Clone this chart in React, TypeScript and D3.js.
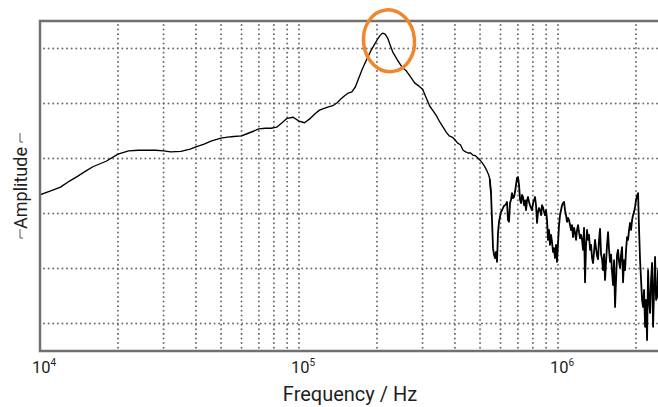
import React from "react";
import * as d3 from "d3";

// Frequency (kHz) and amplitude (dB)
const freqKHz: number[] = [
  10, 11, 12, 13, 14, 15, 16, 18, 20, 22, 24, 26, 28, 30, 32, 35, 38, 40, 43, 46, 50, 53, 56, 60, 63, 67, 70, 74, 78, 82, 86, 90, 95,
  100, 105, 110, 115, 120, 125, 130, 135, 140, 145, 150, 155, 160, 165, 170, 175, 180, 185, 190, 195, 200, 205, 210, 215, 220, 225, 230,
  240, 250, 260, 270, 280, 290, 300, 310, 320, 330, 340, 350, 360, 370, 380, 390, 400, 410, 420, 430, 440, 450, 460, 470, 480, 490,
  500, 510, 520, 530, 540, 545,
  551.3, 556.2, 561.2, 566.2, 571.2, 576.3, 581.5, 586.7, 592.0, 597.2, 602.5, 607.9, 613.3, 618.8, 624.3, 629.9, 635.5, 641.2, 646.9,
  652.8, 658.6, 664.5, 670.4, 676.4, 682.4, 688.6, 694.7, 700.9, 707.2, 713.5, 719.9, 726.3, 732.8, 739.3, 745.9, 752.6, 759.3, 766.1,
  772.9, 779.8, 786.8, 793.8, 800.9, 808.0, 815.2, 822.5, 829.9, 837.3, 844.8, 852.3, 859.9, 867.6, 875.3, 883.1, 891.0, 899.0, 907.0,
  915.1, 923.3, 931.6, 939.9, 948.3, 956.8, 965.3, 973.9, 982.6, 991.4, 1000.2, 1009.2, 1018.2, 1027.3, 1036.5, 1045.7, 1055.1, 1064.5,
  1074.0, 1083.6, 1093.3, 1103.1, 1113.0, 1122.9, 1132.9, 1143.1, 1153.3, 1163.6, 1174.0, 1184.5, 1195.0, 1205.7, 1216.5, 1227.4, 1238.3,
  1249.4, 1260.5, 1271.8, 1283.2, 1294.6, 1306.2, 1317.8, 1329.6, 1341.5, 1353.5, 1365.6, 1377.7, 1390.0, 1402.4, 1414.9, 1427.6, 1440.3,
  1453.3, 1466.3, 1479.3, 1492.5, 1505.9, 1519.3, 1532.9, 1546.6, 1560.4, 1574.3, 1588.5, 1602.7, 1617.0, 1631.4, 1646.0, 1660.7, 1675.5,
  1690.5, 1705.6, 1720.8, 1736.2, 1751.7, 1767.4, 1783.1, 1799.1, 1815.2, 1831.4, 1847.7, 1864.2, 1880.9, 1897.7, 1914.6, 1931.8, 1949.0,
  1966.4, 1984.0, 2001.7, 2019.6, 2037.6, 2055.8, 2074.2, 2092.7, 2111.4, 2130.3, 2149.3, 2168.5, 2187.8, 2207.4, 2227.1, 2247.0, 2267.1,
  2287.3, 2307.7, 2328.3, 2349.1, 2370.1, 2391.3, 2412.6, 2434.2, 2455.9, 2478.0,
];

const ampDb: number[] = [
  -36.6, -35.9, -35.2, -34.1, -33.2, -32.3, -31.5, -30.5, -29.2, -28.6, -28.5, -28.5, -28.5, -28.6, -28.8, -28.7, -28.3, -27.9, -27.4,
  -26.8, -26.3, -26.1, -26.0, -25.9, -25.5, -25.0, -24.6, -24.5, -24.5, -24.3, -23.5, -22.7, -22.5,
  -23.2, -23.5, -22.8, -21.9, -21.2, -20.9, -20.6, -20.4, -19.9, -19.2, -18.6, -18.1, -17.9, -17.0, -15.4, -13.9, -12.6, -11.4, -10.3,
  -9.4, -8.5, -7.7, -7.2, -7.4, -8.1, -9.4, -10.6,
  -12.1, -13.4, -14.1, -15.2, -16.3, -16.8, -17.4, -19.0, -20.5, -21.4, -22.3, -23.4, -24.3, -25.2, -25.9, -26.1, -26.6, -27.2, -27.5,
  -28.5, -28.8, -29.0, -29.0, -29.4, -29.5, -29.9,
  -30.3, -30.8, -31.4, -32.1, -33.0, -33.7,
  -36.3, -41.2, -46.3, -47.5, -48.1, -47.0, -48.8, -43.5, -41.5, -40.6, -39.7, -39.4, -39.0, -38.6, -38.5, -38.3, -37.9, -41.2, -41.5,
  -38.1, -37.5, -36.3, -37.2, -37.0, -36.1, -34.8, -33.5, -33.4, -34.8, -37.5, -38.1, -36.6, -37.0, -38.5, -37.6, -39.4, -37.6, -37.0,
  -37.9, -38.5, -39.0, -39.4, -38.1, -37.6, -37.0, -38.5, -41.7, -39.7, -39.0, -39.4, -40.3, -38.5, -38.9, -39.7, -40.3, -39.4, -41.2,
  -44.8, -43.0, -45.7, -43.9, -45.2, -47.0, -46.3, -48.1, -45.7, -48.8, -45.4, -42.1, -40.3, -39.4, -38.5, -38.1, -37.9, -39.4,
  -40.3, -41.5, -40.8, -41.2, -42.1, -43.0, -42.1, -44.3, -42.6, -43.5, -44.8, -43.0, -42.1, -43.4, -44.5, -43.9, -44.8,
  -46.6, -42.6, -52.5, -45.7, -43.0, -44.8, -43.9, -46.6, -45.7, -48.1, -49.0, -47.0, -44.8, -46.3, -47.7, -48.3, -44.8,
  -42.8, -47.4, -48.3, -50.3, -47.4, -52.1, -48.8, -45.7, -43.4, -46.6, -48.8, -47.5, -50.6, -53.0, -48.5, -57.0, -52.1,
  -47.5, -46.6, -48.8, -49.9, -47.5, -46.1, -52.5, -48.5, -50.3, -46.6, -44.3, -44.8, -43.0, -41.7, -43.0, -41.2, -40.3,
  -39.7, -38.8, -37.5, -36.8, -36.3, -43.0, -48.5, -52.1, -55.7, -57.0, -53.9, -60.6, -55.7, -63.0, -50.3, -55.7, -58.1,
  -52.1, -49.0, -60.6, -53.9, -47.9, -55.7, -55.2, -50.3, -55.7, -53.9,
];

const gridDb: number[] = [-60, -50, -40, -30, -20, -10];
const gridFreqHz: number[] = [
  2e4, 3e4, 4e4, 5e4, 6e4, 7e4, 8e4, 9e4,
  1e5, 2e5, 3e5, 4e5, 5e5, 6e5, 7e5, 8e5, 9e5,
  1e6, 2e6, 3e6,
];
const tickExps: number[] = [4, 5, 6];
const noisyFromKHz = 550;
const peakMarker = { fKHz: 222.6, db: -8.6 };

const W = 658;
const H = 407;
const M = { left: 40, top: 21, bottom: 351, right: 658 };

export default function App() {
  const x = d3.scaleLog().domain([1e4, 1e7]).range([M.left, M.left + 259 * 3]);
  const y = d3.scaleLinear().domain([-65, -5]).range([M.bottom, M.top]);

  const pts = freqKHz.map((f, i) => [f * 1000, ampDb[i]] as [number, number]);
  const smooth = pts.filter((d) => d[0] <= noisyFromKHz * 1000 + 2000);
  const noisy = pts.filter((d) => d[0] >= 545000);
  const line = d3
    .line<[number, number]>()
    .x((d) => x(d[0]))
    .y((d) => y(d[1]));

  const font = "Roboto, 'Noto Sans', sans-serif";
  const labelCol = "#1e1e1e";
  const gridCol = "#6f6f6f";

  return (
    <div style={{ position: "fixed", left: 0, top: 0, width: W, height: H, background: "#fff" }}>
      <svg width={W} height={H} style={{ display: "block" }}>
        <defs>
          <clipPath id="plotClip">
            <rect x={M.left} y={M.top} width={M.right - M.left + 10} height={M.bottom - M.top} />
          </clipPath>
        </defs>
        <g clipPath="url(#plotClip)">
          {gridDb.map((v) => (
            <line
              key={"h" + v}
              x1={M.left + 4}
              x2={M.right + 10}
              y1={y(v)}
              y2={y(v)}
              stroke={gridCol}
              strokeWidth={2}
              strokeLinecap="round"
              strokeDasharray="0.01 4.6"
            />
          ))}
          {gridFreqHz.map((f) => (
            <line
              key={"v" + f}
              x1={x(f)}
              x2={x(f)}
              y1={M.top + 4}
              y2={M.bottom}
              stroke={gridCol}
              strokeWidth={2}
              strokeLinecap="round"
              strokeDasharray="0.01 4.6"
            />
          ))}
          <path d={line(smooth) || ""} fill="none" stroke="#000" strokeWidth={1.35} strokeLinejoin="round" />
          <path d={line(noisy) || ""} fill="none" stroke="#000" strokeWidth={1.8} strokeLinejoin="round" />
        </g>
        {/* frame */}
        <path
          d={`M${M.right + 20},${M.top} H${M.left} V${M.bottom} H${M.right + 20}`}
          fill="none"
          stroke="#707070"
          strokeWidth={2.5}
        />
        {/* x tick labels */}
        {tickExps.map((e) => (
          <text
            key={"t" + e}
            x={x(Math.pow(10, e)) - 8}
            y={373}
            fontFamily={font}
            fontSize={16.5}
            fill={labelCol}
          >
            10
            <tspan fontSize={10} dy={-7}>
              {e}
            </tspan>
          </text>
        ))}
        <text x={350} y={401} textAnchor="middle" fontFamily={font} fontSize={20} fill={labelCol}>
          Frequency / Hz
        </text>
        <g transform={`translate(27,${(M.top + M.bottom) / 2 + 2}) rotate(-90)`}>
          <text x={0} y={0} textAnchor="middle" fontFamily={font} fontSize={18} fill={labelCol}>
            Amplitude
          </text>
        </g>
        <path d="M20,133 V142 H23" fill="none" stroke="#555" strokeWidth={1} />
        <path d="M20,229 V238 H23" fill="none" stroke="#555" strokeWidth={1} />
        {/* peak highlight */}
        <ellipse
          cx={x(peakMarker.fKHz * 1000)}
          cy={y(peakMarker.db)}
          rx={25.5}
          ry={31}
          fill="none"
          stroke="#F0872E"
          strokeWidth={3.5}
          transform={`rotate(-6 ${x(peakMarker.fKHz * 1000)} ${y(peakMarker.db)})`}
        />
      </svg>
    </div>
  );
}
